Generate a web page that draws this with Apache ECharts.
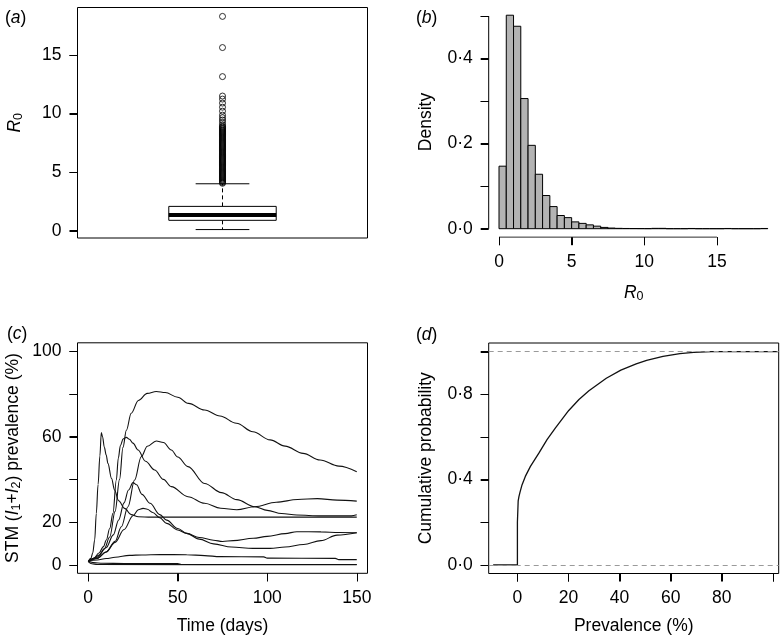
<!DOCTYPE html>
<html>
<head>
<meta charset="utf-8">
<script src="https://cdn.jsdelivr.net/npm/echarts@6/dist/echarts.min.js"></script>
<style>html,body{margin:0;padding:0;background:#fff}#c{width:780px;height:639px}</style>
</head>
<body>
<div id="c"></div>
<script>
// ---------- DATA ----------
// (a) boxplot of R0: [x, lowerWhisker, Q1, median, Q3, upperWhisker]
const BOX_R0 = [[1, 0.10, 0.89, 1.34, 2.08, 4.01]];
const OUTLIERS_R0 = [4.05,4.12,4.2,4.28,4.36,4.44,4.52,4.6,4.68,4.76,4.84,4.92,5.0,5.08,5.16,5.24,5.32,5.4,5.48,5.56,5.64,5.72,5.8,5.88,5.96,
  6.04,6.12,6.2,6.28,6.36,6.44,6.52,6.6,6.68,6.76,6.84,6.92,7.0,7.08,7.16,7.24,7.32,7.4,7.48,7.56,7.64,7.72,7.8,7.88,7.96,
  8.04,8.12,8.2,8.28,8.36,8.44,8.52,8.6,8.68,8.76,8.84,8.92,9.05,9.25,9.45,9.65,9.87,10.21,10.55,10.9,11.24,11.5,13.16,15.64,18.3];
const YTICKS_A = [0, 5, 10, 15];

// (b) histogram of R0 (density), bins of width 0.5 starting at 0
const BIN_START = 0, BIN_W = 0.5;
const HIST_DENSITY = [0.147,0.502,0.476,0.306,0.196,0.128,0.078,0.052,0.031,0.026,0.016,0.0125,0.009,0.006,0.003,0.0015,
  0.0008,0.0005,0.0004,0.0003,0.0002,0.0008,0.0008,0,0,0,0.0005,0,0,0,0,0.0005,0,0,0,0,0.0005];
const XTICKS_B = [0, 5, 10, 15];
const YTICKS_B = [0, 0.1, 0.2, 0.3, 0.4, 0.5];
const YLABELS_B = [0, 0.2, 0.4];

// (c) STM prevalence trajectories [time (days), prevalence (%)]
const CURVE_1 = [[0,1.5],[1.5,3],[2.5,5.5],[3.6,11.6],[4.5,24],[5.5,37.6],[6.5,51],[7.3,62],[8,60],[9,55],[10,51.5],[11,47.5],[13,40.5],[14.7,35],[17,30],[20.3,26.4],[24,23.5],[28,22.5],[35,22.3],[150,22.3]];
const CURVE_2 = [[0,1.5],[3,3],[6,5.5],[8.5,8.5],[10.1,11.6],[12,17],[13.8,24.1],[15.7,39.7],[16.8,50],[18,56],[19.5,59],[21.3,59.7],[23,58.8],[25,57],[27.8,53.8],[32,48.5],[37.1,44.4],[42,40],[46.4,36.6],[55.7,31.9],[65,28.8],[74,26.5],[83,25.8],[93,27.2],[105,29.3],[117,30.6],[128,31],[139,30.3],[150,29.8]];
const CURVE_3 = [[0,1.5],[3,2.8],[6,4.5],[9,7.5],[12,13],[15,25],[17.5,40],[19.4,55],[21.3,63],[24,71],[28,77],[33,80.3],[38,81.2],[43,80.7],[50,78.5],[56,75.6],[65,72.5],[73.6,69.7],[82.8,66.3],[92,62.3],[101.6,58.5],[110,55.6],[120,52.2],[129.5,49.1],[140,46.2],[150,43.6]];
const CURVE_4 = [[0,1.5],[5,3],[10,6],[15,11],[18.5,17.8],[22.2,27.2],[25.9,39.7],[29.6,50.6],[33,55.5],[38,58],[42,57.3],[46.4,53.8],[50,50.5],[55.7,46],[65,38.1],[74.4,33.8],[83,30.5],[93,27.2],[100,25.5],[108,24],[116.5,23.3],[130,22.9],[147,22.9],[150,23.4]];
const CURVE_5 = [[0,1.5],[5,3.5],[10,8],[14,14],[17,21],[20,29],[22.5,35],[25,38.5],[27,37.5],[30,33],[34.5,28.8],[40,23.5],[43.8,20.9],[50,17],[55,14.7],[62,12],[70,9.8],[80,8.3],[92,7.7],[101.6,7.7],[110,8.3],[120.3,9.5],[130,11.3],[139,13.9],[150,15]];
const CURVE_6 = [[0,1.5],[5,3],[10,6],[15,10.5],[20,16.5],[25,23],[28,25.8],[30.6,26.4],[33,26],[36,24.5],[40,22],[43.8,19.4],[50,16.3],[55,14.7],[62,12.8],[70,11.5],[75,10.9],[81,11.3],[92.2,12.4],[100,13.3],[110,14.6],[116.5,15.5],[130,15.4],[140,15.1],[150,15]];
const CURVE_7 = [[0,1.5],[5,2.2],[10,2.9],[15,3.5],[23,4.4],[30,4.6],[40,4.8],[55,4.7],[65,4.3],[73.6,3.8],[98,3.7],[100,3.1],[138,3.0],[140,2.4],[150,2.4]];
const CURVE_8 = [[0,1.5],[3,1],[8,0.7],[20,0.6],[50,0.6],[52,0.15],[150,0.1]];
const CURVE_9 = [[0,1.5],[2,0.5],[5,0.1],[150,0]];
const CURVES_C = [CURVE_1, CURVE_2, CURVE_3, CURVE_4, CURVE_5, CURVE_6, CURVE_7, CURVE_8, CURVE_9];
const XTICKS_C = [0, 50, 100, 150];
const YTICKS_C = [0, 20, 40, 60, 80, 100];
const YLABELS_C = [0, 20, 60, 100];

// (d) empirical cumulative distribution of prevalence [prevalence (%), cumulative probability]
const ECDF_D = [[-9.5,0],[0,0],[0,0.2],[0.3,0.3],[0.6,0.32],[1,0.34],[1.8,0.375],[3.1,0.415],[5.1,0.462],[8.4,0.524],[11.6,0.587],[14.9,0.642],[20.1,0.724],[24.1,0.775],[28,0.816],[34.8,0.875],[40.5,0.913],[46.5,0.942],[50.6,0.959],[57,0.977],[63.6,0.99],[69,0.996],[76,1.0],[102,1.0]];
const REF_LINES_D = [0, 1];
const XTICKS_D = [0, 20, 40, 60, 80, 100];
const XLABELS_D = [0, 20, 40, 60, 80];
const YTICKS_D = [0, 0.2, 0.4, 0.6, 0.8, 1.0];
const YLABELS_D = [0, 0.4, 0.8];

// ---------- AXIS RANGES (R-style 4% extension) ----------
const RANGE = {
  ax: [0.46, 1.54], ay: [-0.62, 19.06],
  bx: [-0.709, 19.25], by: [-0.02, 0.522],
  cx: [-6, 156], cy: [-4, 104],
  dx: [-11.24, 102.3], dy: [-0.04, 1.04]
};

// ---------- STYLE ----------
const FONT = 'Liberation Sans';
const FS = 17.5;
const INK = '#000';
const TICK_LEN = 8;
const dotFmt = v => v.toFixed(1).replace('.', '\u00B7');
const rich = {
  n: {fontFamily: FONT, fontSize: FS, color: INK, fontWeight: 'normal', lineHeight: 20},
  i: {fontFamily: FONT, fontSize: FS, color: INK, fontWeight: 'normal', fontStyle: 'italic', lineHeight: 20},
  s: {fontFamily: FONT, fontSize: 12.5, color: INK, fontWeight: 'normal', lineHeight: 12, verticalAlign: 'bottom'}
};
const gridBox = {show: true, borderColor: INK, borderWidth: 1};

function axis(gridIndex, range, ticks, labels, fmt, extra) {
  return Object.assign({
    gridIndex, type: 'value', min: range[0], max: range[1],
    axisLine: {show: false, onZero: false},
    splitLine: {show: false},
    axisTick: {show: true, length: TICK_LEN, customValues: ticks, lineStyle: {color: INK}},
    axisLabel: {customValues: labels, fontFamily: FONT, fontSize: FS, color: INK, margin: 16,
      formatter: fmt || (v => String(v))}
  }, extra || {});
}

const BOX_W = 0.4;
const CLEAR = 'rgba(0,0,0,0)';

const option = {
  animation: false,
  backgroundColor: '#fff',
  title: [
    {text: '{n|(}{i|a}{n|)}', left: 0, top: 3, textStyle: {fontWeight: 'normal', rich}},
    {text: '{n|(}{i|b}{n|)}', left: 411, top: 3, textStyle: {fontWeight: 'normal', rich}},
    {text: '{n|(}{i|c}{n|)}', left: 2, top: 319, textStyle: {fontWeight: 'normal', rich}},
    {text: '{n|(}{i|d}{n|)}', left: 411, top: 320, textStyle: {fontWeight: 'normal', rich}}
  ],
  grid: [
    Object.assign({left: 77.5, top: 7.5, width: 290, height: 230.5}, gridBox),
    {left: 488.7, top: 6.7, width: 290, height: 230.5, show: false},
    Object.assign({left: 77.5, top: 342.8, width: 290, height: 230.5}, gridBox),
    Object.assign({left: 488.7, top: 343, width: 290, height: 230.5}, gridBox)
  ],
  xAxis: [
    {gridIndex: 0, type: 'value', min: RANGE.ax[0], max: RANGE.ax[1], show: false},
    axis(1, RANGE.bx, XTICKS_B, XTICKS_B, null, {
      name: '{i|R}{s|0}', nameLocation: 'middle', nameGap: 46, nameTextStyle: {rich}}),
    axis(2, RANGE.cx, XTICKS_C, XTICKS_C, null, {
      name: 'Time (days)', nameLocation: 'middle', nameGap: 44,
      nameTextStyle: {fontFamily: FONT, fontSize: FS, color: INK}}),
    axis(3, RANGE.dx, XTICKS_D, XLABELS_D, null, {
      name: 'Prevalence (%)', nameLocation: 'middle', nameGap: 44,
      nameTextStyle: {fontFamily: FONT, fontSize: FS, color: INK}})
  ],
  yAxis: [
    axis(0, RANGE.ay, YTICKS_A, YTICKS_A, null, {
      name: '{i|R}{s|0}', nameLocation: 'middle', nameRotate: 90, nameGap: 52, nameTextStyle: {rich}}),
    axis(1, RANGE.by, YTICKS_B, YLABELS_B, dotFmt, {
      name: 'Density', nameLocation: 'middle', nameRotate: 90, nameGap: 54,
      nameTextStyle: {fontFamily: FONT, fontSize: FS, color: INK}}),
    axis(2, RANGE.cy, YTICKS_C, YLABELS_C, null, {
      name: '{n|STM (}{i|I}{s|1}{n|+}{i|I}{s|2}{n|) prevalence (%)}', nameLocation: 'middle', nameRotate: 90, nameGap: 54,
      nameTextStyle: {rich}}),
    axis(3, RANGE.dy, YTICKS_D, YLABELS_D, dotFmt, {
      name: 'Cumulative probability', nameLocation: 'middle', nameRotate: 90, nameGap: 54,
      nameTextStyle: {fontFamily: FONT, fontSize: FS, color: INK}})
  ],
  series: []
};

// tick marks drawn outward from the plot edge through the axis scales (2-D points on the plot edge)
function ticks(idx, values, dir, at) {
  return {
    type: 'custom', xAxisIndex: idx, yAxisIndex: idx, clip: false, silent: true,
    encode: {x: 0, y: 1},
    data: values.map(v => dir === 'x' ? [v, at] : [at, v]),
    renderItem: (params, api) => {
      const p = api.coord([api.value(0), api.value(1)]);
      const s = Math.round(dir === 'x' ? p[0] : p[1]) + 0.5;
      const shape = dir === 'x'
        ? {x1: s, y1: p[1], x2: s, y2: p[1] + TICK_LEN}
        : {x1: p[0], y1: s, x2: p[0] - TICK_LEN, y2: s};
      return {type: 'line', shape, style: {stroke: INK, lineWidth: 1}};
    }
  };
}
option.series.push(ticks(0, YTICKS_A, 'y', RANGE.ax[0]));
option.series.push(ticks(1, XTICKS_B, 'x', RANGE.by[0]));
option.series.push(ticks(1, YTICKS_B, 'y', RANGE.bx[0]));
option.series.push(ticks(2, XTICKS_C, 'x', RANGE.cy[0]));
option.series.push(ticks(2, YTICKS_C, 'y', RANGE.cx[0]));
option.series.push(ticks(3, XTICKS_D, 'x', RANGE.dy[0]));
option.series.push(ticks(3, YTICKS_D, 'y', RANGE.dx[0]));

// (a) box plot drawn through the axis scales
option.series.push({
  type: 'custom', xAxisIndex: 0, yAxisIndex: 0, data: BOX_R0,
  renderItem: (params, api) => {
    const x = api.value(0), lo = api.value(1), q1 = api.value(2), med = api.value(3), q3 = api.value(4), hi = api.value(5);
    const bl = api.coord([x - BOX_W / 2, q3]), br = api.coord([x + BOX_W / 2, q1]);
    const cl = api.coord([x - BOX_W / 4, lo]), cr = api.coord([x + BOX_W / 4, hi]);
    const pm = api.coord([x, med]), pq1 = api.coord([x, q1]), pq3 = api.coord([x, q3]);
    const plo = api.coord([x, lo]), phi = api.coord([x, hi]);
    const cx = Math.round(pm[0]) + 0.5;
    return {type: 'group', children: [
      {type: 'line', shape: {x1: cx, y1: pq3[1], x2: cx, y2: phi[1]}, style: {stroke: INK, lineWidth: 1, lineDash: [4, 3]}},
      {type: 'line', shape: {x1: cx, y1: pq1[1], x2: cx, y2: plo[1]}, style: {stroke: INK, lineWidth: 1, lineDash: [4, 3]}},
      {type: 'line', shape: {x1: cl[0], y1: phi[1], x2: cr[0], y2: phi[1]}, style: {stroke: INK, lineWidth: 1}},
      {type: 'line', shape: {x1: cl[0], y1: plo[1], x2: cr[0], y2: plo[1]}, style: {stroke: INK, lineWidth: 1}},
      {type: 'rect', shape: {x: bl[0], y: bl[1], width: br[0] - bl[0], height: br[1] - bl[1]}, style: {fill: '#fff', stroke: INK, lineWidth: 1}},
      {type: 'line', shape: {x1: bl[0], y1: pm[1], x2: br[0], y2: pm[1]}, style: {stroke: INK, lineWidth: 4}}
    ]};
  }
});
option.series.push({
  type: 'scatter', xAxisIndex: 0, yAxisIndex: 0, symbol: 'circle', symbolSize: 6,
  itemStyle: {color: CLEAR, borderColor: INK, borderWidth: 1},
  data: OUTLIERS_R0.map(v => [BOX_R0[0][0], v])
});

// (b) histogram
option.series.push({
  type: 'custom', xAxisIndex: 1, yAxisIndex: 1,
  data: HIST_DENSITY.map((d, i) => [BIN_START + i * BIN_W, d]),
  renderItem: (params, api) => {
    const x0 = api.value(0), h = api.value(1);
    const p0 = api.coord([x0, 0]), p1 = api.coord([x0 + BIN_W, h]);
    return {type: 'rect', shape: {x: p0[0], y: p1[1], width: p1[0] - p0[0], height: p0[1] - p1[1]},
      style: {fill: '#b3b3b3', stroke: INK, lineWidth: 1}};
  }
});
// (b) R-style axis lines spanning first to last tick
option.series.push({
  type: 'line', xAxisIndex: 1, yAxisIndex: 1, showSymbol: false, silent: true,
  lineStyle: {color: INK, width: 1},
  data: [[XTICKS_B[0], RANGE.by[0]], [XTICKS_B[XTICKS_B.length - 1], RANGE.by[0]]]
});
option.series.push({
  type: 'line', xAxisIndex: 1, yAxisIndex: 1, showSymbol: false, silent: true,
  lineStyle: {color: INK, width: 1},
  data: [[RANGE.bx[0], YTICKS_B[0]], [RANGE.bx[0], YTICKS_B[YTICKS_B.length - 1]]]
});

// (c) trajectories
CURVES_C.forEach(c => option.series.push({
  type: 'line', xAxisIndex: 2, yAxisIndex: 2, data: c, showSymbol: false,
  smooth: 0.35, smoothMonotone: 'x', lineStyle: {color: '#111', width: 1.1}
}));

// (d) ECDF with reference lines
option.series.push({
  type: 'line', xAxisIndex: 3, yAxisIndex: 3, data: ECDF_D, showSymbol: false,
  lineStyle: {color: '#111', width: 1.3},
  markLine: {silent: true, symbol: 'none', label: {show: false},
    lineStyle: {color: '#9a9a9a', type: [5, 4], width: 1},
    data: REF_LINES_D.map(v => ({yAxis: v}))}
});

const chart = echarts.init(document.getElementById('c'), null, {renderer: 'canvas'});
chart.setOption(option);
</script>
</body>
</html>
